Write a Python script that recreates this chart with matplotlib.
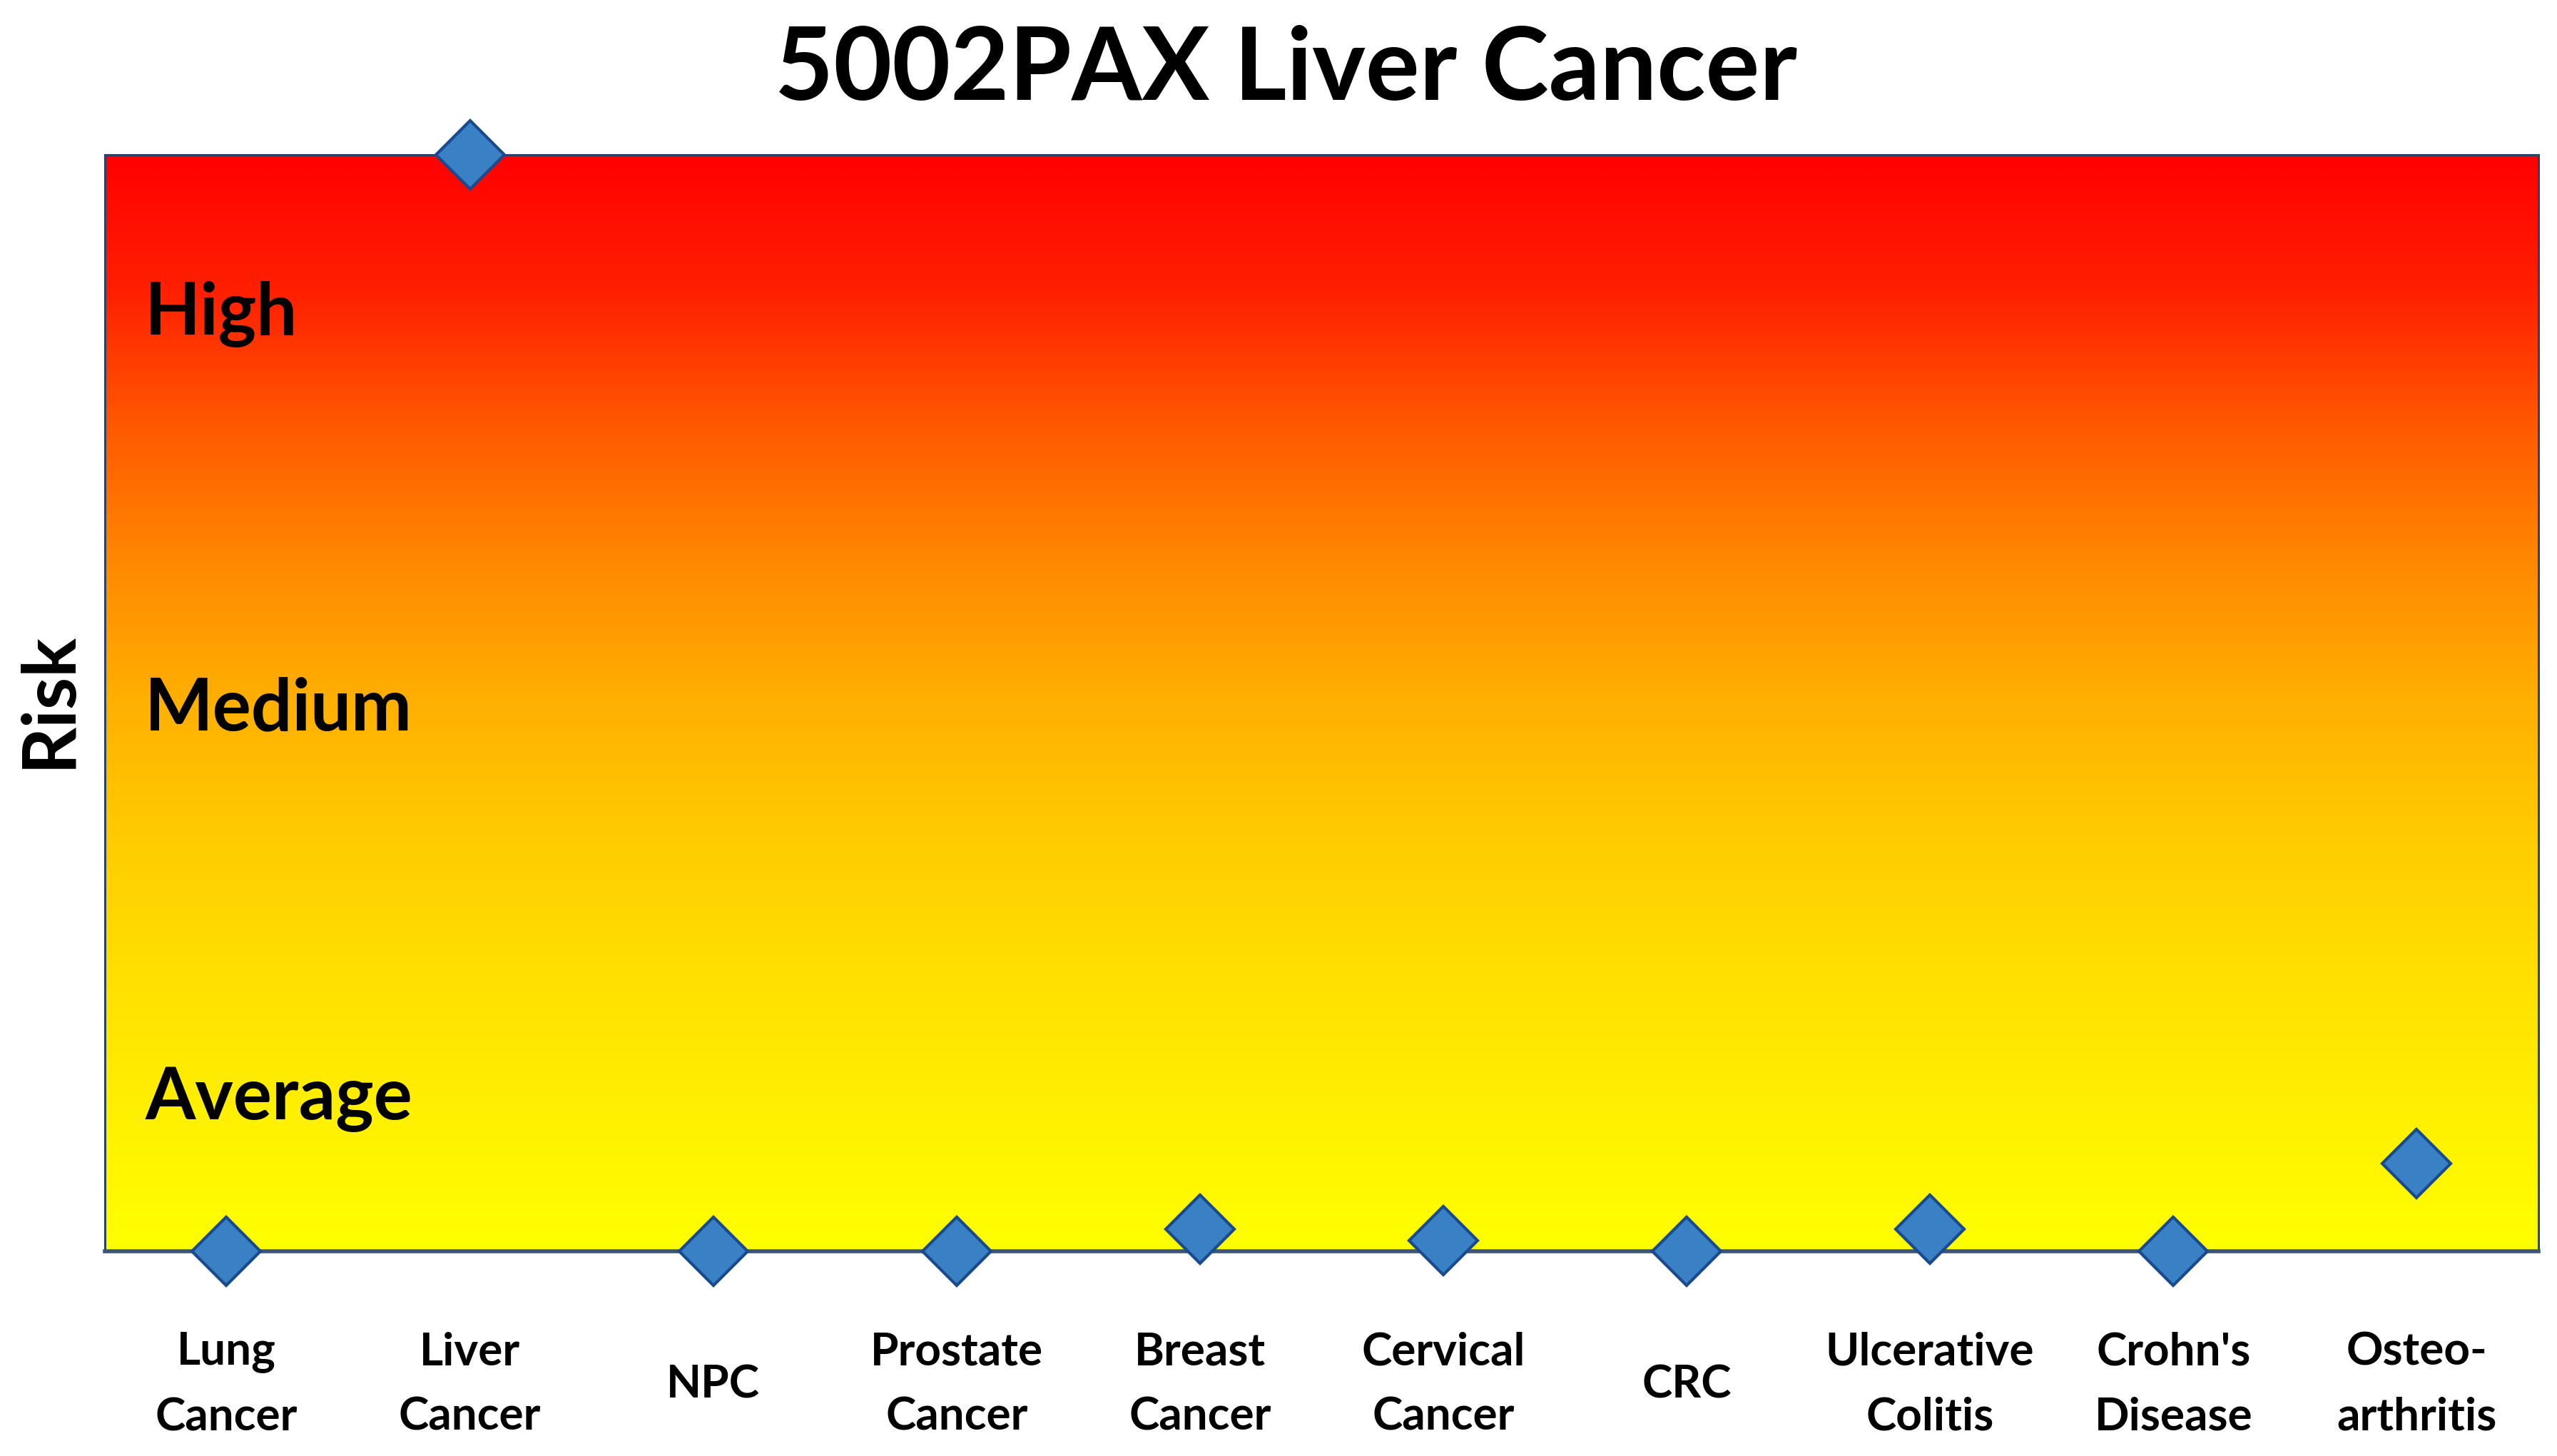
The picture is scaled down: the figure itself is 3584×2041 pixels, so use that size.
import numpy as np
import matplotlib
matplotlib.use("Agg")
import matplotlib.pyplot as plt
from matplotlib.colors import LinearSegmentedColormap

# data (risk on a 0-100 scale, Liver Cancer at the top)
categories = ["Lung\nCancer", "Liver\nCancer", "NPC", "Prostate\nCancer",
              "Breast\nCancer", "Cervical\nCancer", "CRC", "Ulcerative\nColitis",
              "Crohn's\nDisease", "Osteo-\narthritis"]
risk = [0, 100, 0, 0, 2, 1, 0, 2, 0, 8]
level_names = ["High", "Medium", "Average"]
level_pos = [0.836, 0.4756, 0.1204]   # axes fraction, baseline

plt.rcParams['font.family'] = ['Lato', 'DejaVu Sans']
plt.rcParams['font.weight'] = 'bold'

fig = plt.figure(figsize=(35.84, 20.41), dpi=100)
ax = fig.add_axes([0.0410, 0.1406, 0.9517, 0.7531])

x = np.arange(1, len(categories) + 1)
ax.set_xlim(0.5, len(categories) + 0.5)

# yellow (bottom) -> red (top) background
cmap = LinearSegmentedColormap.from_list(
    "risk", ["#ff0000", "#ff2000", "#ff5a00", "#ff8a00", "#ffb000",
             "#ffcc00", "#ffe000", "#fff000", "#ffff00"])
grad = np.linspace(1, 0, 512).reshape(-1, 1)
ax.imshow(grad, cmap=cmap, aspect="auto", origin="lower",
          extent=(0.5, len(categories) + 0.5, 0, 100),
          zorder=0, interpolation="bilinear")
ax.set_ylim(0, 100)

ax.plot(x, risk, linestyle="none", marker="D", markersize=49,
        markerfacecolor="#3a80c4", markeredgecolor="#1a4a8e", markeredgewidth=3,
        clip_on=False, zorder=5)

for s in ax.spines.values():
    s.set_color("#2a4468")
    s.set_linewidth(2.2)
ax.spines["bottom"].set_linewidth(4)
ax.spines["bottom"].set_color("#3d5478")

ax.set_xticks([])
ax.set_yticks([])

for xi, lab in zip(x, categories):
    ax.text(xi, -0.1215, lab, transform=ax.get_xaxis_transform(), ha="center",
            va="center", fontsize=46, fontweight="bold", linespacing=1.72)

for name, yp in zip(level_names, level_pos):
    ax.text(0.0165, yp, name, transform=ax.transAxes, ha="left", va="baseline",
            fontsize=73, fontweight="bold")

fig.text(0.0193, 0.5194, "Risk", rotation=90, ha="center", va="center",
         fontsize=74, fontweight="bold")
fig.text(0.503, 0.9314, "5002PAX Liver Cancer", ha="center", va="baseline",
         fontsize=102, fontweight="bold")

fig.savefig("out.png", dpi=100)
